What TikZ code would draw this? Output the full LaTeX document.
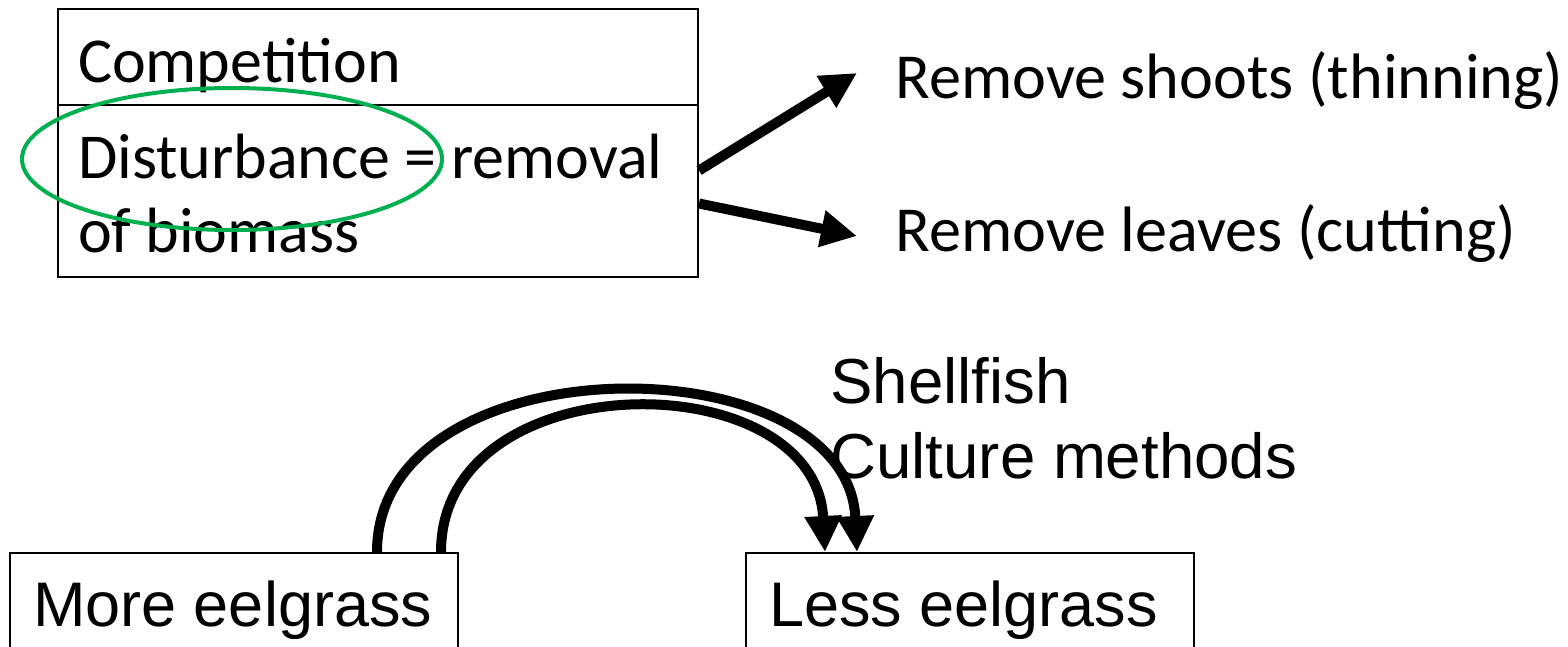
\documentclass[tikz,border=0pt]{standalone}
\usepackage{fontspec}
\setmainfont{Carlito}
\newfontfamily\arialfont{Liberation Sans}
\usetikzlibrary{arrows.meta}
\definecolor{ringgreen}{HTML}{00B050}
\tikzset{
  cell/.style={draw, line width=1pt, inner ysep=0pt, inner xsep=10pt,
    text width=300pt, align=flush left, anchor=base west,
    font=\fontsize{32pt}{37pt}\selectfont},
  statebox/.style={draw, line width=1pt, inner ysep=0pt, inner xsep=11.5pt,
    text width=201pt, align=flush left,
    text height=36.5pt, text depth=60pt, anchor=base west,
    font=\arialfont\fontsize{31.5pt}{37.5pt}\selectfont},
  label/.style={inner sep=0pt, anchor=base west,
    font=\fontsize{32.1pt}{37pt}\selectfont},
  arlabel/.style={inner sep=0pt, anchor=base west, text width=250pt,
    align=flush left,
    font=\arialfont\fontsize{31.8pt}{37.5pt}\selectfont},
  bigarrow/.style={line width=5pt, -{Triangle[length=18pt,width=17.5pt]}},
  ring/.style={draw=ringgreen, line width=2pt}
}
\begin{document}
\begin{tikzpicture}[x=0.5pt, y=-0.5pt]
  \useasboundingbox (0,0) rectangle (1568,647);
  \clip (0,0) rectangle (1568,647);

  % two-cell box
  \node[cell, text height=37pt, text depth=11pt] (comp) at (57,83) {Competition};
  \node[cell, text height=36.5pt, text depth=49.5pt] (dist) at (57,178)
    {Disturbance = removal\\of biomass};

  % highlight ring round the disturbance term
  \draw[ring] (232,159) ellipse [x radius=210, y radius=71];

  % outcomes of disturbance
  \node[label] (shoots) at (895,99) {Remove shoots (thinning)};
  \node[label] (leaves) at (895,251) {Remove leaves (cutting)};
  \coordinate (shootstip) at (857,73);
  \coordinate (leavestip) at (857,236);
  \draw[bigarrow] ([yshift=10.25pt]dist.east) -- (shootstip);
  \draw[bigarrow] ([yshift=-6.25pt]dist.east) -- (leavestip);

  % lower state boxes
  \node[statebox] (more) at (9,626) {More eelgrass};
  \node[statebox] (less) at (745,626) {Less eelgrass};
  \node[arlabel] (shell) at (830,403) {Shellfish\\Culture methods};

  % transition arcs
  \draw[bigarrow] ([xshift=184pt]more.north west)
    .. controls (377,340) and (847,340) .. ([xshift=56pt]less.north west);
  \draw[bigarrow] ([xshift=216pt]more.north west)
    .. controls (441,361) and (815,361) .. ([xshift=40pt]less.north west);
\end{tikzpicture}
\end{document}
